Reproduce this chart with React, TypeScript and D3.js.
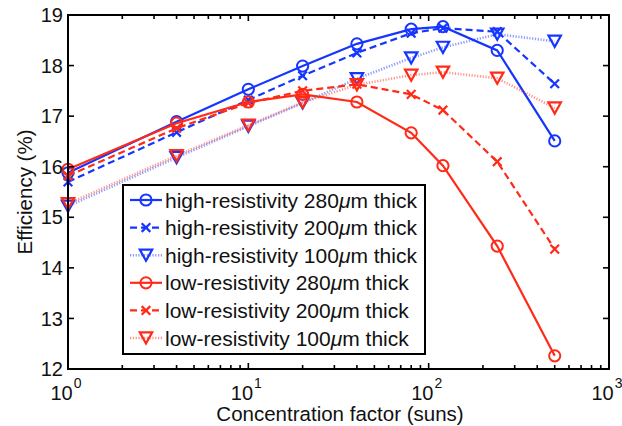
import React from "react";
import * as d3 from "d3";

// Concentration levels (suns)
const concentration = [1, 4, 10, 20, 40, 80, 120, 240, 500];

// Efficiency (%) for each cell type
const highRes280 = [15.88, 16.89, 17.53, 17.99, 18.43, 18.72, 18.77, 18.3, 16.51];
const highRes200 = [15.7, 16.68, 17.32, 17.8, 18.25, 18.64, 18.74, 18.67, 17.64];
const highRes100 = [15.22, 16.18, 16.8, 17.26, 17.74, 18.15, 18.36, 18.62, 18.48];
const lowRes280 = [15.95, 16.86, 17.28, 17.43, 17.28, 16.67, 16.02, 14.43, 12.26];
const lowRes200 = [15.82, 16.76, 17.26, 17.5, 17.63, 17.43, 17.12, 16.1, 14.37];
const lowRes100 = [15.27, 16.22, 16.82, 17.27, 17.62, 17.81, 17.87, 17.75, 17.16];

const seriesLabels = [
  "high-resistivity 280",
  "high-resistivity 200",
  "high-resistivity 100",
  "low-resistivity 280",
  "low-resistivity 200",
  "low-resistivity 100",
];

const yTicks = [12, 13, 14, 15, 16, 17, 18, 19];
const xMajorExponents = [0, 1, 2, 3];

const BLUE = "#1636ff";
const RED = "#ff2a18";

type Marker = "circle" | "x" | "tri";
type Dash = "solid" | "dashed" | "dotted";

const series: { values: number[]; color: string; marker: Marker; dash: Dash; label: string }[] = [
  { values: highRes280, color: BLUE, marker: "circle", dash: "solid", label: seriesLabels[0] },
  { values: highRes200, color: BLUE, marker: "x", dash: "dashed", label: seriesLabels[1] },
  { values: highRes100, color: BLUE, marker: "tri", dash: "dotted", label: seriesLabels[2] },
  { values: lowRes280, color: RED, marker: "circle", dash: "solid", label: seriesLabels[3] },
  { values: lowRes200, color: RED, marker: "x", dash: "dashed", label: seriesLabels[4] },
  { values: lowRes100, color: RED, marker: "tri", dash: "dotted", label: seriesLabels[5] },
];

const W = 622;
const H = 426;
const left = 68;
const right = 609;
const top = 15;
const bottom = 369;
const FONT = "'Liberation Sans', Arial, Helvetica, sans-serif";

const x = d3.scaleLog().domain([1, 1000]).range([left, right]);
const y = d3.scaleLinear().domain([12, 19]).range([bottom, top]);

function dashStyle(d: Dash) {
  if (d === "dashed") return { strokeDasharray: "7 4", strokeWidth: 2.2, opacity: 1 };
  if (d === "dotted") return { strokeDasharray: "1.2 1.6", strokeWidth: 2.6, opacity: 0.5 };
  return { strokeDasharray: undefined, strokeWidth: 2.2, opacity: 1 };
}

function MarkerShape({ kind, cx, cy, color }: { kind: Marker; cx: number; cy: number; color: string }) {
  if (kind === "circle") {
    return <circle cx={cx} cy={cy} r={5.6} fill="none" stroke={color} strokeWidth={2} />;
  }
  if (kind === "x") {
    const s = 4.3;
    return (
      <path
        d={`M${cx - s},${cy - s}L${cx + s},${cy + s}M${cx - s},${cy + s}L${cx + s},${cy - s}`}
        stroke={color}
        strokeWidth={2.2}
        fill="none"
      />
    );
  }
  const w = 6.2;
  const h = 5.6;
  return (
    <path
      d={`M${cx - w},${cy - h}L${cx + w},${cy - h}L${cx},${cy + h}Z`}
      fill="none"
      stroke={color}
      strokeWidth={2.2}
      strokeLinejoin="miter"
    />
  );
}

export default function App() {
  const line = d3
    .line<number>()
    .x((_, i) => x(concentration[i]))
    .y((v) => y(v));

  const logTicks = x.ticks(); // 1..9, 10..90, 100..900, 1000
  const isMajor = (t: number) => Math.abs(Math.log10(t) - Math.round(Math.log10(t))) < 1e-9;

  const legendX = 123;
  const legendY = 185;
  const legendW = 302;
  const legendH = 169;
  const rowY0 = 200;
  const rowStep = 27.6;

  return (
    <svg
      width={W}
      height={H}
      style={{ position: "absolute", left: 0, top: 0, background: "#fff" }}
      fontFamily={FONT}
    >
      <rect x={0} y={0} width={W} height={H} fill="#fff" />

      {/* data lines and markers */}
      {series.map((s, si) => {
        const ds = dashStyle(s.dash);
        return (
          <g key={si}>
            <path
              d={line(s.values) || ""}
              fill="none"
              stroke={s.color}
              strokeWidth={ds.strokeWidth}
              strokeDasharray={ds.strokeDasharray}
              opacity={ds.opacity}
            />
            {s.values.map((v, i) => (
              <MarkerShape key={i} kind={s.marker} cx={x(concentration[i])} cy={y(v)} color={s.color} />
            ))}
          </g>
        );
      })}

      {/* axes box */}
      <rect x={left} y={top} width={right - left} height={bottom - top} fill="none" stroke="#000" strokeWidth={2} />

      {/* y ticks */}
      {yTicks.map((t) => (
        <g key={t}>
          <line x1={left} x2={left + 6} y1={y(t)} y2={y(t)} stroke="#000" strokeWidth={1.6} />
          <line x1={right} x2={right - 6} y1={y(t)} y2={y(t)} stroke="#000" strokeWidth={1.6} />
          <text x={63} y={y(t)} dy="0.36em" textAnchor="end" fontSize={20} fill="#111">
            {t}
          </text>
        </g>
      ))}

      {/* x ticks (log, with minor ticks) */}
      {logTicks.map((t, i) => {
        const len = isMajor(t) ? 6 : 4;
        return (
          <g key={i}>
            <line x1={x(t)} x2={x(t)} y1={bottom} y2={bottom - len} stroke="#000" strokeWidth={1.6} />
            <line x1={x(t)} x2={x(t)} y1={top} y2={top + len} stroke="#000" strokeWidth={1.6} />
          </g>
        );
      })}
      {xMajorExponents.map((e) => (
        <text key={e} x={x(Math.pow(10, e)) - 2} y={400} textAnchor="middle" fontSize={20} fill="#111">
          10
          <tspan dx={1} dy={-12} fontSize={14}>
            {e}
          </tspan>
        </text>
      ))}

      {/* axis labels */}
      <text x={340} y={421} textAnchor="middle" fontSize={20.5} fill="#111">
        Concentration factor (suns)
      </text>
      <text
        transform={`translate(32, ${(top + bottom) / 2}) rotate(-90)`}
        textAnchor="middle"
        fontSize={20.5}
        fill="#111"
      >
        Efficiency (%)
      </text>

      {/* legend */}
      <rect x={legendX} y={legendY} width={legendW} height={legendH} fill="#fff" stroke="#000" strokeWidth={2} />
      {series.map((s, si) => {
        const ry = rowY0 + si * rowStep;
        const ds = dashStyle(s.dash);
        return (
          <g key={si}>
            <line
              x1={130}
              x2={162}
              y1={ry}
              y2={ry}
              stroke={s.color}
              strokeWidth={ds.strokeWidth}
              strokeDasharray={ds.strokeDasharray}
              opacity={ds.opacity}
            />
            <MarkerShape kind={s.marker} cx={146} cy={ry} color={s.color} />
            <text x={165} y={ry} dy="0.36em" fontSize={21} fill="#111">
              {s.label}
              <tspan fontStyle="italic">μ</tspan>m thick
            </text>
          </g>
        );
      })}
    </svg>
  );
}
